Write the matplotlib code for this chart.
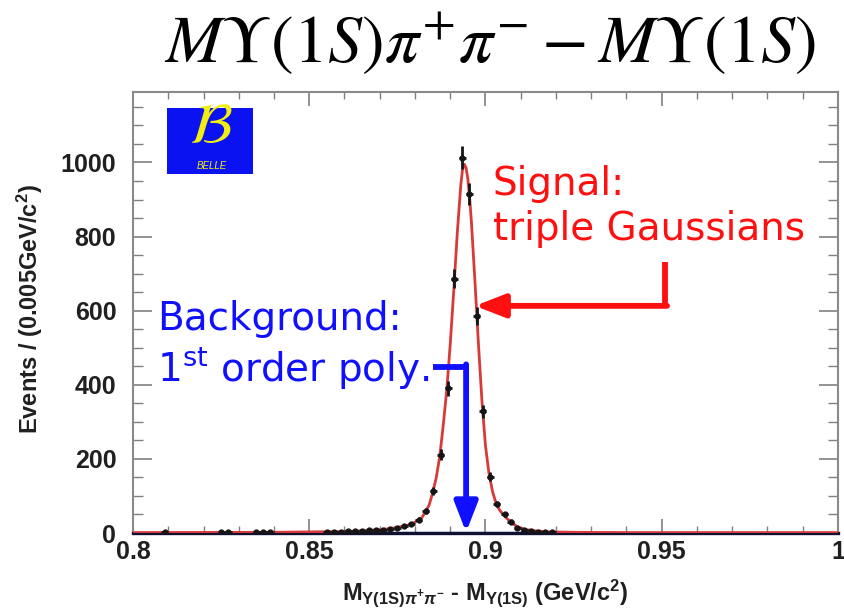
import matplotlib
matplotlib.use('Agg')
import matplotlib.pyplot as plt
from matplotlib.ticker import MultipleLocator
from matplotlib.patches import Rectangle

plt.rcParams['font.family'] = ['Liberation Sans', 'DejaVu Sans']
plt.rcParams['mathtext.fontset'] = 'custom'
plt.rcParams['mathtext.rm'] = 'Liberation Sans:bold'
plt.rcParams['mathtext.it'] = 'Liberation Sans:bold:italic'
plt.rcParams['mathtext.bf'] = 'Liberation Sans:bold'

# data points (bin centres, events, errors)
mass = [0.809, 0.825, 0.827, 0.835, 0.837, 0.839, 0.855, 0.857, 0.859, 0.861,
        0.863, 0.865, 0.867, 0.869, 0.871, 0.873, 0.875, 0.877, 0.879, 0.881,
        0.883, 0.8852, 0.8873, 0.8894, 0.8912, 0.8934, 0.8954, 0.8975, 0.8992, 0.9013,
        0.9032, 0.9055, 0.9072, 0.909, 0.911, 0.913, 0.915, 0.917, 0.919]
events = [4, 3, 4, 3, 4, 3, 3, 4, 4, 5,
          5, 6, 7, 8, 9, 11, 14, 18, 25, 36,
          60, 114, 211, 391, 686, 1013, 914, 585, 328, 152,
          78, 51, 31, 14, 8, 5, 4, 3, 2]
errors = [2, 2, 2, 2, 2, 2, 2, 2, 2, 2,
          2, 2, 3, 3, 3, 3, 4, 4, 5, 6,
          8, 11, 15, 20, 26, 32, 30, 24, 18, 12,
          9, 7, 6, 4, 3, 2, 2, 2, 1]

# fitted curve (signal + background)
fit_x = [0.800, 0.820, 0.840, 0.850, 0.860, 0.865, 0.870, 0.873, 0.876, 0.878,
         0.880, 0.882, 0.884, 0.885, 0.886, 0.887, 0.888, 0.889, 0.890, 0.891,
         0.892, 0.893, 0.8935, 0.894, 0.8945, 0.895, 0.8955, 0.896, 0.897, 0.898,
         0.899, 0.900, 0.901, 0.902, 0.903, 0.904, 0.905, 0.906, 0.907, 0.909,
         0.911, 0.914, 0.918, 0.925, 0.940, 1.000]
fit_y = [1, 1.5, 2, 3, 4, 6, 9, 12, 17, 21,
         29, 42, 75, 108, 148, 205, 290, 385, 510, 655,
         810, 940, 982, 995, 985, 955, 905, 840, 680, 510,
         355, 235, 160, 112, 80, 62, 50, 40, 31, 17,
         10, 6, 3, 2, 1, 1]

# background: 1st order polynomial
bkg_x = [0.8, 1.0]
bkg_y = [0.8, 0.8]

fig = plt.figure(figsize=(8.45, 6.14), dpi=100)
ax = fig.add_axes([0.1574, 0.1319, 0.8343, 0.7182])

ax.plot(bkg_x, bkg_y, color='#2a2ae0', lw=1.6, zorder=2)
ax.plot(fit_x, fit_y, color='#d83a3a', lw=2.0, zorder=3)
ax.errorbar(mass, events, yerr=errors, xerr=0.001, fmt='o', ms=3.5,
            color='#151515', elinewidth=2.0, capsize=0, zorder=4)

ax.set_xlim(0.8, 1.0)
ax.set_ylim(0, 1190)
ax.set_xticks([0.8, 0.85, 0.9, 0.95, 1.0])
ax.set_xticklabels(['0.8', '0.85', '0.9', '0.95', '1'])
ax.set_yticks([0, 200, 400, 600, 800, 1000])
ax.xaxis.set_minor_locator(MultipleLocator(0.01))
ax.yaxis.set_minor_locator(MultipleLocator(50))

ax.tick_params(which='both', direction='in', top=True, right=True,
               colors='#808080', labelcolor='#202020', labelsize=18)
ax.tick_params(axis='x', which='major', length=10, width=1.2, pad=5)
ax.tick_params(axis='x', which='minor', length=5, width=1.0)
ax.tick_params(axis='y', which='major', length=14, width=1.2, pad=12)
ax.tick_params(axis='y', which='minor', length=7, width=1.0)
for lab in ax.get_xticklabels() + ax.get_yticklabels():
    lab.set_fontweight('bold')

for side in ['left', 'top', 'right']:
    ax.spines[side].set_color('#8a8a8a')
    ax.spines[side].set_linewidth(1.5)
ax.spines['bottom'].set_color('#101030')
ax.spines['bottom'].set_linewidth(2.4)

# axis titles
fig.text(30 / 845, 1 - 309 / 614, 'Events / (0.005GeV/c$^{2}$)', rotation=90,
         ha='center', va='center', fontsize=17, fontweight='bold', color='#202020')
fig.text(485 / 845, 1 - 593 / 614,
         r'$\mathrm{M}_{\Upsilon\mathrm{(1S)}\pi^{+}\pi^{-}}$ - $\mathrm{M}_{\Upsilon\mathrm{(1S)}}$ (GeV/c$^{2}$)',
         ha='center', va='center', fontsize=17, fontweight='bold', color='#202020')

# big title
fig.text(490 / 845, 1 - 62 / 614, r'$M\Upsilon(1S)\pi^{+}\pi^{-} - M\Upsilon(1S)$',
         ha='center', va='baseline', fontsize=49, math_fontfamily='stix')

# Belle logo
ax.add_patch(Rectangle((0.048, 0.814), 0.122, 0.150, transform=ax.transAxes,
                       facecolor='#0a12f2', edgecolor='none', zorder=5))
ax.text(0.110, 0.918, r'$\mathcal{B}$', transform=ax.transAxes, ha='center', va='center',
        fontsize=42, color='#f2ee10', math_fontfamily='stix', zorder=6)
ax.text(0.112, 0.833, 'BELLE', transform=ax.transAxes, ha='center', va='center',
        fontsize=7, style='italic', color='#f2ee10', zorder=6)

# annotations
red = '#ff1010'
blue = '#1010ff'
ax.text(0.9021, 911, 'Signal:', color=red, fontsize=28, family='DejaVu Sans', va='baseline')
ax.text(0.9021, 792, 'triple Gaussians', color=red, fontsize=28, family='DejaVu Sans',
        va='baseline')
ax.plot([0.9509, 0.9509], [730, 613], color=red, lw=4.2, solid_capstyle='butt', zorder=6)
ax.annotate('', xy=(0.8970, 613), xytext=(0.9515, 613),
            arrowprops=dict(arrowstyle='-|>,head_length=0.9,head_width=0.35', color=red,
                            lw=4.2, shrinkA=0, shrinkB=0, mutation_scale=20), zorder=6)

ax.text(0.8068, 549, 'Background:', color=blue, fontsize=28, family='DejaVu Sans',
        va='baseline')
ax.text(0.8068, 408, r'1$^{\mathregular{st}}$ order poly.', color=blue, fontsize=28,
        family='DejaVu Sans', va='baseline')
ax.plot([0.8850, 0.8950], [449, 449], color=blue, lw=4.2, solid_capstyle='butt', zorder=6)
ax.annotate('', xy=(0.8945, 2), xytext=(0.8945, 455),
            arrowprops=dict(arrowstyle='-|>,head_length=0.9,head_width=0.35', color=blue,
                            lw=4.2, shrinkA=0, shrinkB=0, mutation_scale=20), zorder=6)

fig.savefig('out.png', dpi=100)
